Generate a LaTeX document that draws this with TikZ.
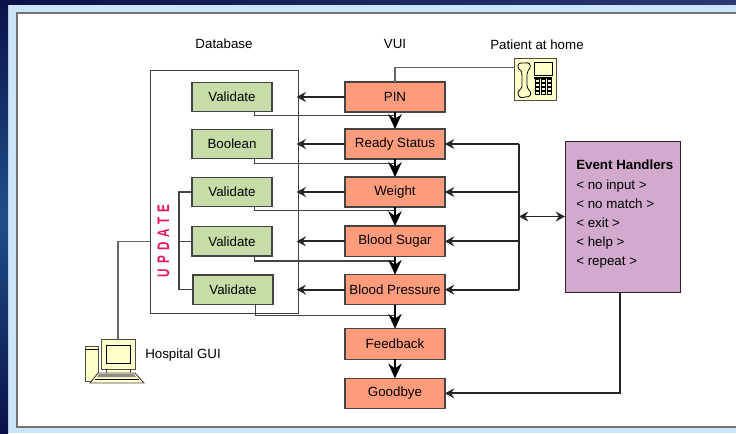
\documentclass[tikz,border=0pt]{standalone}
\usepackage{graphicx}
\usepackage{fontspec}
\setmainfont{Liberation Sans}
\usetikzlibrary{positioning,arrows.meta}
\definecolor{vuicol}{HTML}{FF9C7C}
\definecolor{dbcol}{HTML}{C8DCA8}
\definecolor{evcol}{HTML}{D2AACE}
\definecolor{iconcol}{HTML}{FFFFC8}
\definecolor{framecol}{HTML}{CCE4F8}
\definecolor{linecol}{HTML}{444444}
\definecolor{updcol}{HTML}{E8145A}
\definecolor{navycol}{HTML}{0B1148}
\definecolor{stripcol}{HTML}{1F4F88}
\definecolor{topcol}{HTML}{2A3A70}

\begin{document}
\begin{tikzpicture}[%
  x=0.75pt,
  y=-0.75pt,
  >={Stealth[length=7pt,width=7.5pt,inset=2.5pt]},
  txt/.style={font=\fontsize{10}{12}\selectfont},
  vui/.style={
    txt,
    draw=linecol,
    line width=0.9pt,
    fill=vuicol,
    outer sep=0pt,
    minimum width=75pt,
    minimum height=22.5pt,
    inner sep=0pt,},
  db/.style={
    txt,
    draw=linecol,
    line width=0.9pt,
    fill=dbcol,
    outer sep=0pt,
    minimum width=60pt,
    minimum height=22pt,
    inner sep=0pt,},
  pil/.style={
    ->,
    line width=2.2pt,
    >={Stealth[length=11pt,width=10pt,inset=3.5pt]},},
  arw/.style={
    ->,
    line width=1.4pt,
    draw=black!85,},
  thin/.style={
    line width=0.8pt,
    draw=linecol,},
  icon/.style={
    draw=black!70,
    line width=0.7pt,
    fill=iconcol,},
  ]
  \useasboundingbox (0,0) rectangle (736,433);
  %% Background
  \fill[framecol] (0,0) rectangle (736,433);
  \shade[top color=navycol, bottom color=navycol, middle color=stripcol]
    (0,0) rectangle (8,433);
  \shade[left color=navycol, right color=topcol] (0,0) rectangle (736,4);
  \filldraw[fill=white, draw=black!55, line width=0.9pt] (17,13) rectangle (737,427);
  %% Titles
  \node[txt] (dbtitle) at (224,44) {Database};
  \node[txt] (vuititle) at (395,44) {VUI};
  \node[txt] (hometitle) at (537,45) {Patient at home};
  %% Nodes
  \node[draw=black!75, line width=0.7pt, outer sep=0pt, minimum width=111pt, minimum height=182.25pt] (dbase) at (224,191.5) {};
  \node[vui] (pin) at (395,97) {PIN};
  \node[vui, below = 12.75pt of pin] (ready) {Ready Status};
  \node[vui, below = 13.5pt of ready] (weight) {Weight};
  \node[vui, below = 14.25pt of weight, minimum height=23pt] (sugar) {Blood Sugar};
  \node[vui, below = 13.5pt of sugar] (pressure) {Blood Pressure};
  \node[vui, below = 18pt of pressure, minimum height=23pt] (feedback) {Feedback};
  \node[vui, below = 14.25pt of feedback] (goodbye) {Goodbye};
  \node[db, left = 54.75pt of pin] (valA) {Validate};
  \node[db, left = 54.75pt of ready] (bool) {Boolean};
  \node[db, left = 54.75pt of weight] (valB) {Validate};
  \node[db, left = 54.75pt of sugar] (valC) {Validate};
  \node[db, left = 54pt of pressure] (valD) {Validate};
  \node[draw=black!85, line width=0.7pt, outer sep=0pt, fill=evcol, minimum width=86.25pt, minimum height=113.25pt] (events) at (622.5,216.5) {};
  \node[txt, anchor=north west, inner sep=0pt, align=left] (evtext) at (576,160) {%
    \textbf{Event Handlers}\\[2.4pt]
    < no input >\\[2.4pt]
    < no match >\\[2.4pt]
    < exit >\\[2.4pt]
    < help >\\[2.4pt]
    < repeat >};
  \node[icon, outer sep=0pt, minimum width=31.5pt, minimum height=32pt, inner sep=0pt] (phone) at (535,79.5) {};
  \node[icon, outer sep=0pt, minimum width=25.5pt, minimum height=22pt, inner sep=0pt] (monitor) at (118,354.5) {};
  \node[txt, anchor=west, inner sep=0pt] (hospital) at (145,355) {Hospital GUI};
  \node[font=\fontsize{12.5}{14}\bfseries\addfontfeature{LetterSpace=43}, text=updcol, rotate=90, inner sep=0pt] (update) at (163.5,241) {\scalebox{0.7}[1]{UPDATE}};
  \coordinate[left = 34.5pt of events] (bus);
  %% Edges
  \draw[thin] ([xshift=17pt]valA.south) -- ++(0,4) -| (pin.south);
  \draw[thin] ([xshift=17pt]bool.south) -- ++(0,5) -| (ready.south);
  \draw[thin] ([xshift=17pt]valB.south) -- ++(0,4) -| (weight.south);
  \draw[thin] ([xshift=17pt]valC.south) -- ++(0,5) -| (sugar.south);
  \draw[thin] ([xshift=17pt]valD.south) -- ++(0,11.5) -| (pressure.south);
  \draw[thin] (valB.west) -- ++(-13,0) |- (valD.west);
  \draw[thin] (valC.west) -- ++(-13,0);
  \draw[thin, draw=black!60] (monitor.north) |- (dbase.west |- valC.west);
  \draw[thin, draw=black!60] (pin.north) |- ([yshift=9pt]phone.west);
  \draw[pil] (pin) to (ready);
  \draw[pil] (ready) to (weight);
  \draw[pil] (weight) to (sugar);
  \draw[pil] (sugar) to (pressure);
  \draw[pil] (pressure) to (feedback);
  \draw[pil] (feedback) to (goodbye);
  \draw[arw] (pin) to ([xshift=-1pt]dbase.east |- pin);
  \draw[arw] (ready) to ([xshift=-1pt]dbase.east |- ready);
  \draw[arw] (weight) to ([xshift=-1pt]dbase.east |- weight);
  \draw[arw] (sugar) to ([xshift=-1pt]dbase.east |- sugar);
  \draw[arw] (pressure) to ([xshift=-1pt]dbase.east |- pressure);
  \draw[arw, -] (bus |- ready.east) to (bus |- pressure.east);
  \draw[arw] (bus |- ready.east) to (ready.east);
  \draw[arw] (bus |- weight.east) to (weight.east);
  \draw[arw] (bus |- sugar.east) to (sugar.east);
  \draw[arw] (bus |- pressure.east) to (pressure.east);
  \draw[arw, <->] (bus) to (events.west);
  \draw[arw] ([xshift=-2pt]events.south) |- (goodbye.east);
  %% Phone
  \draw[line width=0.6pt, fill=iconcol] (521,63) .. controls (518,63) and (517,67) .. (519,69)
    .. controls (522,71) and (522,73) .. (522,76) -- (522,86)
    .. controls (522,90) and (517,90) .. (518,94) .. controls (519,98) and (522,98) .. (525,97)
    .. controls (530,97) and (532,95) .. (530,91) .. controls (528,89) and (527,88) .. (527,85)
    -- (527,74) .. controls (527,71) and (529,70) .. (530,68) .. controls (531,64) and (529,62) .. (525,63) -- cycle;
  \draw[line width=0.5pt, fill=iconcol] (534,62) rectangle (552,75);
  \draw[line width=1pt] (534,78) -- (552,78);
  \foreach \kx in {537,543,549} {
    \foreach \ky in {81,85,89,93} {
      \draw[line width=0.4pt, fill=iconcol] (\kx-2,\ky-1.5) rectangle (\kx+2,\ky+1.5);
    }
  }
  %% Computer
  \draw[icon] (85.5,346) rectangle (98,381);
  \draw[line width=0.5pt] (85.5,349) -- (98,349);
  \draw[icon] (106,369) rectangle (130,374);
  \draw[line width=0.5pt, fill=iconcol] (106,345) rectangle (130,363);
  \draw[icon] (98,373) -- (135,373) -- (144,383) -- (90,383) -- cycle;
  \fill[black!45] (99,374) -- (134,374) -- (136,377) -- (97,377) -- cycle;
  \draw[line width=0.4pt] (95,379) -- (139,379);
\end{tikzpicture}
\end{document}
